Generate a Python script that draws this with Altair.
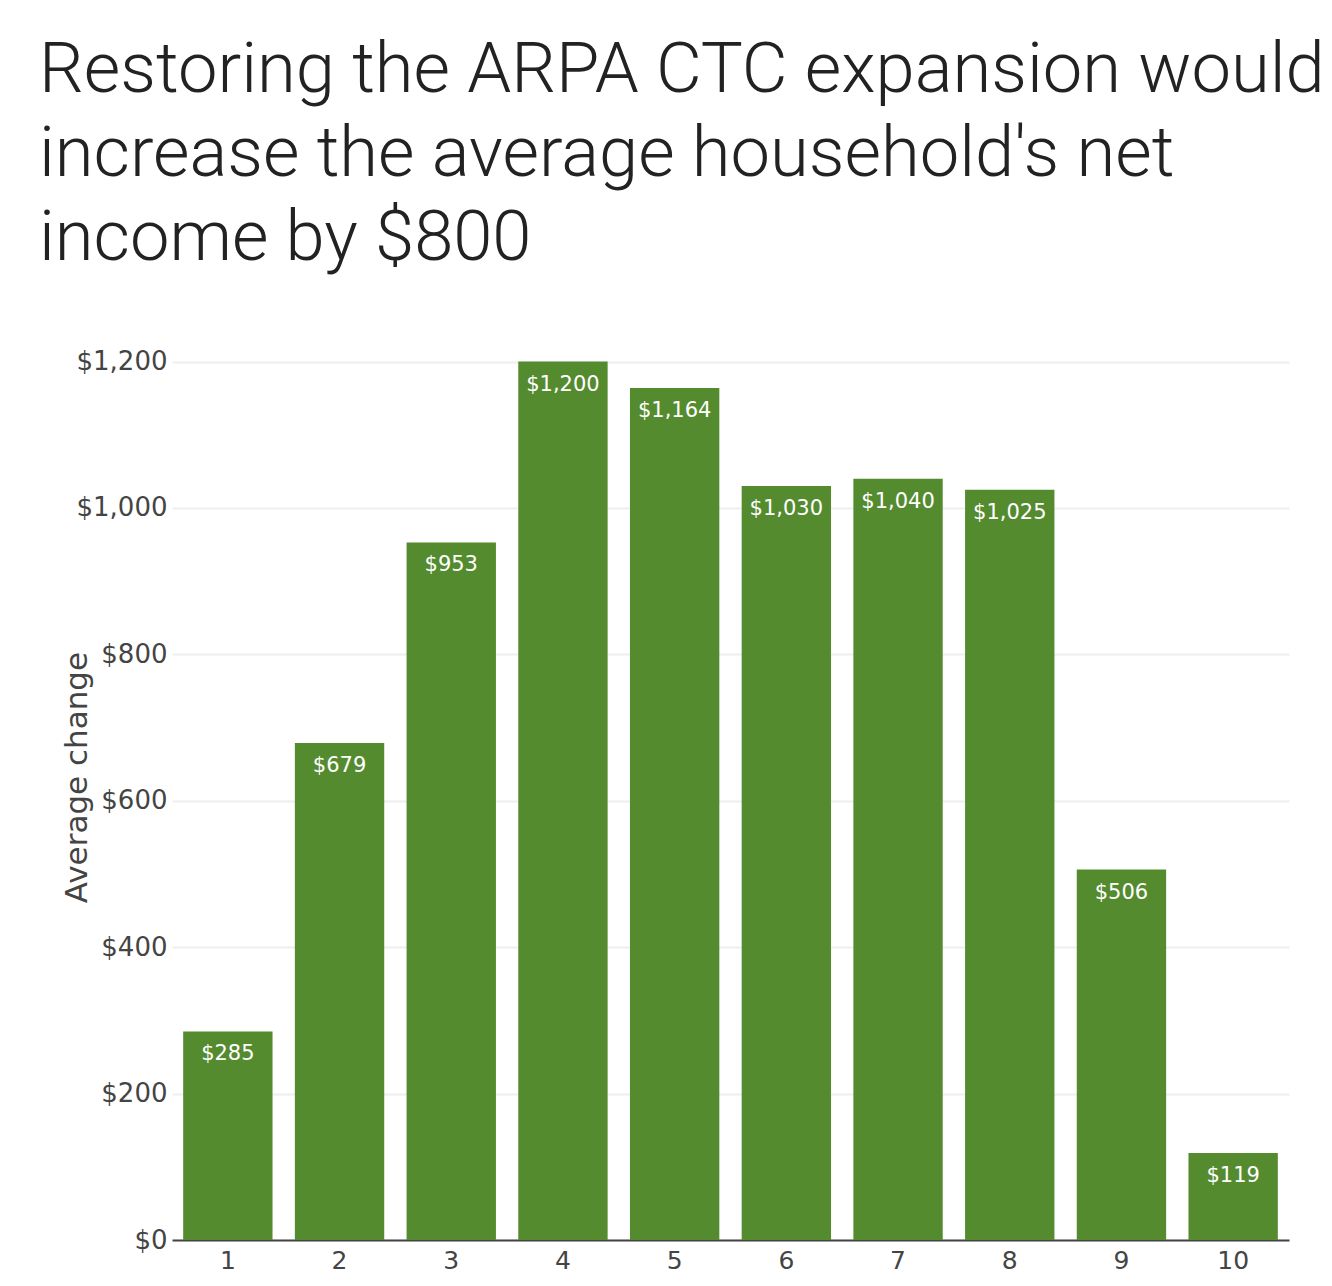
import altair as alt
import pandas as pd

deciles = ["1", "2", "3", "4", "5", "6", "7", "8", "9", "10"]
avg_change = [285, 679, 953, 1200, 1164, 1030, 1040, 1025, 506, 119]
y_ticks = [0, 200, 400, 600, 800, 1000, 1200]
title_lines = [
    "Restoring the ARPA CTC expansion would",
    "increase the average household's net",
    "income by $800",
]

df = pd.DataFrame({"decile": deciles, "change": avg_change})

GREEN = "#558B2F"
AXIS_COL = "#444444"
FONT = "DejaVu Sans"

base = alt.Chart(df).encode(
    x=alt.X(
        "decile:N",
        sort=deciles,
        scale=alt.Scale(paddingInner=0.2, paddingOuter=0.1),
        axis=alt.Axis(
            title=None,
            labelAngle=0,
            labelFont=FONT,
            labelFontSize=25,
            labelColor=AXIS_COL,
            labelPadding=8,
            ticks=False,
            domainColor=AXIS_COL,
            domainWidth=2,
            grid=False,
        ),
    ),
    y=alt.Y(
        "change:Q",
        scale=alt.Scale(domain=[0, 1265], nice=False, zero=True),
        axis=alt.Axis(
            title="Average change",
            values=y_ticks,
            format="$,.0f",
            labelFont=FONT,
            labelFontSize=26,
            labelColor=AXIS_COL,
            labelPadding=5,
            ticks=False,
            domain=False,
            gridColor="#eeeeee",
            gridWidth=2,
            titleFont=FONT,
            titleFontSize=31,
            titleFontWeight="normal",
            titleColor=AXIS_COL,
            titleAngle=-90,
            titleAlign="center",
            titleBaseline="alphabetic",
            titleX=-86,
            titleY=463,
        ),
    ),
)

bars = base.mark_bar(color=GREEN)
labels = base.mark_text(
    color="white",
    font=FONT,
    fontSize=21,
    baseline="alphabetic",
    dy=29,
).encode(text=alt.Text("change:Q", format="$,.0f"))

chart = (
    alt.layer(bars, labels)
    .properties(
        width=1117,
        height=926,
        autosize=alt.AutoSizeParams(type="none"),
        padding={"left": 164, "top": 306, "right": 35, "bottom": 40},
        title=alt.TitleParams(
            text=title_lines,
            anchor="start",
            frame="group",
            font="Roboto",
            fontWeight=300,
            fontSize=70.5,
            lineHeight=84,
            color="#222222",
            baseline="top",
            dx=-133,
            dy=-40,
            offset=0,
        ),
    )
    .configure_view(stroke=None)
)

chart.save("out.html", embed_options={"renderer": "svg", "actions": False})
